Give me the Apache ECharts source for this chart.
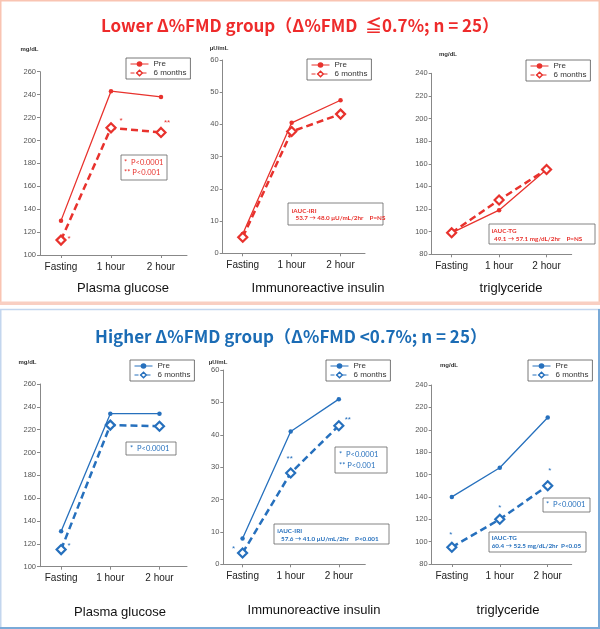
<!DOCTYPE html>
<html><head><meta charset="utf-8">
<script src="https://cdn.jsdelivr.net/npm/echarts@6/dist/echarts.min.js"></script>
<style>html,body{margin:0;padding:0;background:#fff}#c{width:600px;height:629px}</style>
</head><body><div id="c"></div>
<script>
// ---- data ----
const timePoints = ['Fasting', '1 hour', '2 hour'];
const yTicksGlu = [100, 260, 20];
const yTicksIri = [0, 60, 10];
const yTicksTg = [80, 240, 20];
// Lower Δ%FMD group
const lowGluPre = [130, 243, 238];
const lowGlu6m = [113, 211, 207];
const lowIriPre = [6, 40.5, 47.5];
const lowIri6m = [5, 37.8, 43.2];
const lowTgPre = [99, 119, 155];
const lowTg6m = [99, 128, 155];
const lowGluSig = ['*', '*', '**'];
const lowIriSig = ['', '', ''];
const lowTgSig = ['', '', ''];
// Higher Δ%FMD group
const highGluPre = [131, 234, 234];
const highGlu6m = [115, 224, 223];
const highIriPre = [8, 41, 51];
const highIri6m = [3.5, 28.2, 42.8];
const highTgPre = [140, 166, 211];
const highTg6m = [95, 120, 150];
const highGluSig = ['*', '', ''];
const highIriSig = ['*', '**', '**'];
const highTgSig = ['*', '*', '*'];

const RED = '#e8322d';
const BLUE = '#2670bd';
const FONT = "'Liberation Sans', Arial, sans-serif";
const NFONT = "Lato, 'Liberation Sans', sans-serif";

const panels = [
  {grid:{left:40, top:71.7, width:147, height:183.3}, xr:[-0.42, 2.52], y:yTicksGlu, pre:lowGluPre, six:lowGlu6m, sig:lowGluSig, off:[[8,-1],[10,-7],[6,-10]], color:RED, leg:[126,58]},
  {grid:{left:222.7, top:60, width:142.3, height:193.3}, xr:[-0.41, 2.5], y:yTicksIri, pre:lowIriPre, six:lowIri6m, sig:lowIriSig, off:[[0,0],[0,0],[0,0]], color:RED, leg:[307,59]},
  {grid:{left:431.7, top:73.3, width:140, height:181}, xr:[-0.42, 2.53], y:yTicksTg, pre:lowTgPre, six:lowTg6m, sig:lowTgSig, off:[[0,0],[0,0],[0,0]], color:RED, leg:[526,60]},
  {grid:{left:40, top:384, width:147, height:182.7}, xr:[-0.43, 2.56], y:yTicksGlu, pre:highGluPre, six:highGlu6m, sig:highGluSig, off:[[8,-4],[0,0],[0,0]], color:BLUE, leg:[130,360]},
  {grid:{left:223.3, top:370, width:142, height:194.3}, xr:[-0.4, 2.55], y:yTicksIri, pre:highIriPre, six:highIri6m, sig:highIriSig, off:[[-9,-4],[-1,-14],[9,-6]], color:BLUE, leg:[326,360]},
  {grid:{left:431.7, top:385, width:140, height:179}, xr:[-0.42, 2.5], y:yTicksTg, pre:highTgPre, six:highTg6m, sig:highTgSig, off:[[-1,-12],[0,-11],[2,-15]], color:BLUE, leg:[528,360]}
];

const grids = [], xAxes = [], yAxes = [], series = [], legends = [];
panels.forEach((p, i) => {
  grids.push(Object.assign({containLabel:false}, p.grid));
  xAxes.push({
    type:'value', gridIndex:i, min:p.xr[0], max:p.xr[1],
    axisLine:{show:true, onZero:false, lineStyle:{color:'#888', width:1}},
    axisTick:{show:true, length:3, customValues:[0,1,2], lineStyle:{color:'#888'}},
    axisLabel:{customValues:[0,1,2], formatter:v => timePoints[Math.round(v)], fontSize:10, color:'#222', margin:7, fontFamily:FONT},
    splitLine:{show:false}
  });
  yAxes.push({
    type:'value', gridIndex:i, min:p.y[0], max:p.y[1], interval:p.y[2],
    axisLine:{show:true, onZero:false, lineStyle:{color:'#888', width:1}},
    axisTick:{show:true, length:3, lineStyle:{color:'#888'}},
    axisLabel:{fontSize:7.5, color:'#555', margin:4, fontFamily:FONT},
    splitLine:{show:false}
  });
  series.push({
    name:'Pre', type:'line', xAxisIndex:i, yAxisIndex:i,
    data:p.pre.map((v, k) => [k, v]),
    symbol:'circle', symbolSize:4.5,
    itemStyle:{color:p.color},
    lineStyle:{color:p.color, width:1.3},
    z:2
  });
  series.push({
    name:'6 months', type:'line', xAxisIndex:i, yAxisIndex:i,
    data:p.six.map((v, k) => ({value:[k, v], label:{offset:p.off[k]}})),
    symbol:'diamond', symbolSize:9,
    itemStyle:{color:'#fff', borderColor:p.color, borderWidth:2.2},
    lineStyle:{color:p.color, width:2.5, type:[7,4]},
    label:{show:true, position:'inside', formatter:q => p.sig[q.dataIndex], color:p.color, fontSize:8, fontFamily:FONT},
    z:3
  });
  legends.push({
    left:p.leg[0], top:p.leg[1], orient:'vertical',
    borderColor:'#555', borderWidth:0.8, padding:[2,4,2,4], itemGap:1,
    itemWidth:18, itemHeight:7,
    textStyle:{fontSize:8, color:'#333', fontFamily:FONT},
    data:[
      {name:'Pre', itemStyle:{color:p.color}, lineStyle:{color:p.color, width:1}},
      {name:'6 months', itemStyle:{color:'#fff', borderColor:p.color, borderWidth:1.5}, lineStyle:{color:p.color, width:1, type:'dashed'}}
    ]
  });
});

function txt(x, y, s, opt) {
  return {type:'text', x:x, y:y, silent:true, style:Object.assign({text:s, fill:'#111', font:'13px ' + FONT, textAlign:'center', textVerticalAlign:'middle'}, opt || {})};
}
function box(x, y, w, h) {
  return {type:'rect', silent:true, shape:{x:x, y:y, width:w, height:h}, style:{fill:'#fff', stroke:'#666', lineWidth:0.8}, z:-1};
}
const g = [];
// frames
g.push({type:'rect', silent:true, shape:{x:0.75, y:0.75, width:598.5, height:302}, style:{fill:'none', stroke:'#f9c4b2', lineWidth:1.5}, z:-10});
g.push({type:'rect', silent:true, shape:{x:0, y:301.5, width:600, height:3.5}, style:{fill:'#f9cfc2'}, z:-10});
g.push({type:'rect', silent:true, shape:{x:0.75, y:309.5, width:598.5, height:318.5}, style:{fill:'none', stroke:'#c3d6ee', lineWidth:1.5}, z:-10});
g.push({type:'line', silent:true, shape:{x1:599, y1:309, x2:599, y2:629}, style:{stroke:'#7aaad8', lineWidth:2}, z:-9});
g.push({type:'line', silent:true, shape:{x1:0, y1:628, x2:600, y2:628}, style:{stroke:'#7aaad8', lineWidth:2}, z:-9});
// main titles
const titleFont = "bold 17px 'Noto Sans CJK JP', 'Liberation Sans', sans-serif";
g.push(txt(300, 26, 'Lower Δ%FMD group（Δ%FMD  ≦0.7%; n = 25）', {fill:'#ee2b2b', font:titleFont}));
g.push(txt(291, 337, 'Higher Δ%FMD group（Δ%FMD <0.7%; n = 25）', {fill:'#1b6cb5', font:titleFont}));
// panel titles
g.push(txt(123, 288, 'Plasma glucose'));
g.push(txt(318, 288, 'Immunoreactive insulin'));
g.push(txt(511, 288, 'triglyceride'));
g.push(txt(120, 612, 'Plasma glucose'));
g.push(txt(314, 610, 'Immunoreactive insulin'));
g.push(txt(508, 610, 'triglyceride'));
// units
const uf = {font:'bold 6px ' + FONT, fill:'#333'};
g.push(txt(29.5, 49, 'mg/dL', uf));
g.push(txt(219, 48, 'μU/mL', uf));
g.push(txt(448, 54, 'mg/dL', uf));
g.push(txt(27.5, 362, 'mg/dL', uf));
g.push(txt(218, 362, 'μU/mL', uf));
g.push(txt(449, 365, 'mg/dL', uf));
// annotation boxes
const af = (c) => ({font:'7.5px ' + NFONT, fill:c, textAlign:'left'});
const abf = (c) => ({font:'bold 6.3px ' + NFONT, fill:c, textAlign:'left'});
g.push(box(121, 155, 46, 25));
g.push(txt(124, 162.3, '*  P<0.0001', af(RED)));
g.push(txt(124, 172.3, '** P<0.001', af(RED)));
g.push(box(288, 203, 95, 22));
g.push(txt(291.7, 210.7, 'iAUC-IRI', abf(RED)));
g.push(txt(295.5, 218, '53.7 → 48.0 μU/mL/2hr    P=NS', abf(RED)));
g.push(box(489, 224, 106, 20));
g.push(txt(491.7, 231, 'iAUC-TG', abf(RED)));
g.push(txt(494, 239.3, '49.1 → 57.1 mg/dL/2hr    P=NS', abf(RED)));
g.push(box(126, 442, 50, 13));
g.push(txt(130, 448.5, '*  P<0.0001', af(BLUE)));
g.push(box(335, 447, 52, 26));
g.push(txt(339, 454.3, '*  P<0.0001', af(BLUE)));
g.push(txt(339, 465.7, '** P<0.001', af(BLUE)));
g.push(box(274, 524, 115, 20));
g.push(txt(277.3, 531, 'iAUC-IRI', abf(BLUE)));
g.push(txt(281, 538.7, '57.6 → 41.0 μU/mL/2hr    P<0.001', abf(BLUE)));
g.push(box(543, 498, 47, 14));
g.push(txt(546, 505, '*  P<0.0001', af(BLUE)));
g.push(box(489, 532, 97, 20));
g.push(txt(491.7, 537.7, 'IAUC-TG', abf(BLUE)));
g.push(txt(491.7, 545.5, '60.4 → 52.5 mg/dL/2hr  P<0.05', abf(BLUE)));

const chart = echarts.init(document.getElementById('c'), null, {renderer:'canvas'});
chart.setOption({
  backgroundColor:'#fff',
  animation:false,
  grid:grids, xAxis:xAxes, yAxis:yAxes, series:series, legend:legends,
  graphic:{elements:g}
});
</script></body></html>
